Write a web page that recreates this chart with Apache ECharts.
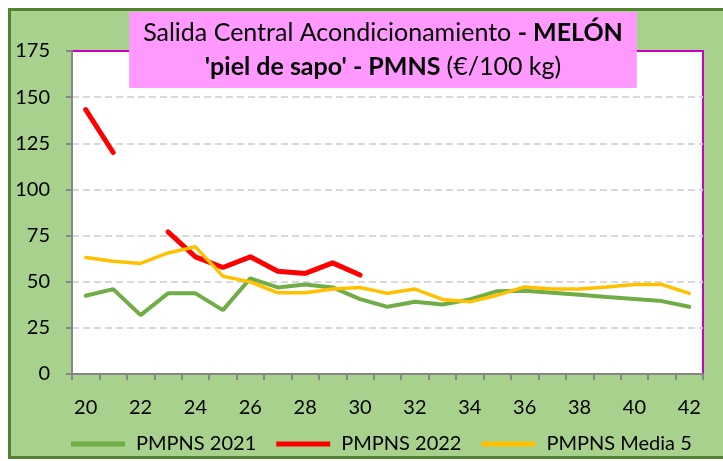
<!DOCTYPE html>
<html lang="es">
<head>
    <meta charset="UTF-8">
    <title>MELÓN piel de sapo - PMNS</title>
    <script src="https://cdn.jsdelivr.net/npm/echarts@6/dist/echarts.min.js"></script>
    <style>
        html, body { margin: 0; padding: 0; background: #fff; }
        #frame {
            position: absolute; left: 8px; top: 8px; width: 723px; height: 451px;
            background: #A9D18E; border: 3px solid #548235; box-sizing: border-box;
        }
        #main { position: absolute; left: 0; top: 0; width: 723px; height: 461px; }
    </style>
</head>
<body>
<div id="frame"></div>
<div id="main"></div>
<script>
    // semanas
    var weeks = ['20', '21', '22', '23', '24', '25', '26', '27', '28', '29', '30', '31',
        '32', '33', '34', '35', '36', '37', '38', '39', '40', '41', '42'];
    // PMPNS 2021
    var pmpns2021 = [42.4, 46, 31.9, 43.7, 43.7, 34.6, 51.8, 46.9, 48.5, 46.9, 40.6, 36.4,
        39.1, 37.7, 40.4, 44.9, 45.1, 44, 42.9, 41.7, 40.6, 39.5, 36.4];
    // PMPNS 2022 (sin dato en la semana 22)
    var pmpns2022 = [143.2, 120, null, 77, 63.5, 57.7, 63.5, 55.7, 54.5, 60.2, 53.6, null,
        null, null, null, null, null, null, null, null, null, null, null];
    // PMPNS Media 5
    var media5 = [63.1, 61.1, 59.9, 65.6, 68.9, 53, 49.9, 44, 44, 46, 46.9, 43.7,
        46, 40.4, 39.1, 42.7, 47.2, 46, 46, 47.2, 48.5, 48.5, 43.7];
    var yTicks = [0, 25, 50, 75, 100, 125, 150, 175];

    var font = 'Lato, "Open Sans", sans-serif';
    var chart = echarts.init(document.getElementById('main'));
    var option = {
        animation: false,
        title: {
            text: '{n|Salida Central Acondicionamiento }{b|- MELÓN}\n{b|\'piel de sapo\' - PMNS }{n|(€/100 kg)}',
            left: 369,
            top: 12,
            textAlign: 'center',
            backgroundColor: '#FF99FF',
            padding: [4, 14, 4, 14],
            textStyle: {
                fontFamily: font,
                fontSize: 25,
                fontWeight: 'normal',
                lineHeight: 34,
                color: '#000',
                rich: {
                    n: {fontFamily: font, fontSize: 25, lineHeight: 34, fontWeight: 'normal', color: '#000'},
                    b: {fontFamily: font, fontSize: 25, lineHeight: 34, fontWeight: 'bold', color: '#000'}
                }
            },
            z: 10
        },
        legend: {
            data: ['PMPNS 2021', 'PMPNS 2022', 'PMPNS Media 5'],
            left: 66,
            top: 429,
            icon: 'rect',
            itemWidth: 54,
            itemHeight: 5,
            itemGap: 20,
            textStyle: {fontFamily: font, fontSize: 20, color: '#000', padding: [0, 0, 0, 6]}
        },
        grid: {
            left: 72,
            right: 20,
            top: 51,
            bottom: 87,
            show: true,
            backgroundColor: '#fff',
            borderColor: '#CC00CC',
            borderWidth: 2
        },
        xAxis: {
            type: 'category',
            boundaryGap: true,
            data: weeks,
            axisLine: {lineStyle: {color: '#868686', width: 2}},
            axisTick: {show: true, interval: 0, length: 6, lineStyle: {color: '#868686', width: 2}},
            axisLabel: {interval: 1, margin: 24, fontFamily: font, fontSize: 20, color: '#000'},
            splitLine: {show: false}
        },
        yAxis: {
            type: 'value',
            min: yTicks[0],
            max: yTicks[yTicks.length - 1],
            interval: 25,
            axisLine: {show: true, lineStyle: {color: '#868686', width: 2}},
            axisTick: {show: true, length: 6, lineStyle: {color: '#868686', width: 2}},
            axisLabel: {margin: 22, fontFamily: font, fontSize: 20, color: '#000'},
            splitLine: {showMaxLine: false, lineStyle: {color: '#D9D9D9', width: 2, type: [7, 4]}}
        },
        series: [
            {
                name: 'PMPNS 2021',
                type: 'line',
                data: pmpns2021,
                symbol: 'none',
                color: '#70AD47',
                lineStyle: {width: 4, color: '#70AD47', cap: 'round'}
            },
            {
                name: 'PMPNS 2022',
                type: 'line',
                data: pmpns2022,
                symbol: 'none',
                connectNulls: false,
                color: '#FF0000',
                lineStyle: {width: 5, color: '#FF0000', cap: 'round'}
            },
            {
                name: 'PMPNS Media 5',
                type: 'line',
                data: media5,
                symbol: 'none',
                color: '#FFC000',
                lineStyle: {width: 3.5, color: '#FFC000', cap: 'round'}
            }
        ]
    };
    chart.setOption(option);
</script>
</body>
</html>
